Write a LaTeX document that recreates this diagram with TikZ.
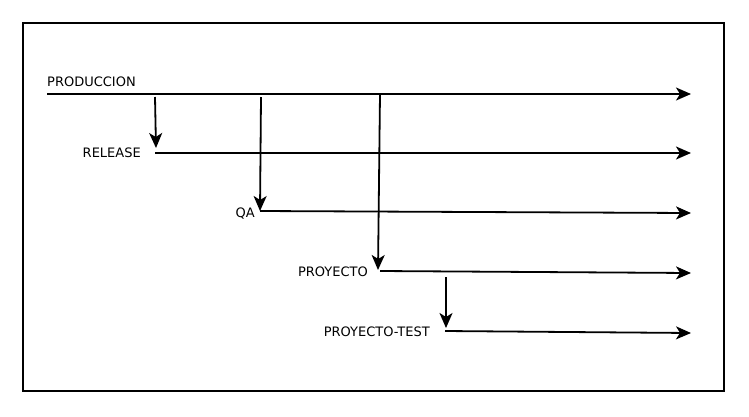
\documentclass[tikz,border=0pt]{standalone}
\usepackage{fontspec}
\setmainfont{DejaVu Sans}
\usetikzlibrary{arrows.meta}
\tikzset{
    every node/.style={inner sep=0pt, font=\fontsize{13}{15}\selectfont},
    flow/.style={line width=1.8pt, -{Stealth[length=15pt, width=13pt, inset=4pt]}}
}

\begin{document}
\begin{tikzpicture}[x=1pt, y=-1pt]
        \useasboundingbox (0,0) rectangle (749,416);
        \draw [line width=1.8pt] (23,23) rectangle (724,391);
        \node (prod) [anchor=west] at (47,82) {PRODUCCION};
        \node (release) [anchor=east] at (141,153) {RELEASE};
        \node (qa) [anchor=east] at (255,214) {QA};
        \node (proy) [anchor=east] at (368,272) {PROYECTO};
        \node (test) [anchor=east] at (430,332) {PROYECTO-TEST};
        \coordinate (p0) at (47,94);
        \coordinate (p1) at (691,94);
        \coordinate (r0) at (155,153);
        \coordinate (r1) at (691,153);
        \coordinate (q0) at (260,211);
        \coordinate (q1) at (691,213);
        \coordinate (y0) at (380,271);
        \coordinate (y1) at (691,273);
        \coordinate (t0) at (445,331);
        \coordinate (t1) at (691,333);
        \coordinate (a0) at (155,97);
        \coordinate (b0) at (261,97);
        \coordinate (c0) at (380,94);
        \coordinate (d0) at (446,277);
        \draw (p0) edge [flow] (p1);
        \draw (r0) edge [flow] (r1);
        \draw (q0) edge [flow] (q1);
        \draw (y0) edge [flow] (y1);
        \draw (t0) edge [flow] (t1);
        \draw (a0) edge [flow] (156,148);
        \draw (b0) edge [flow] (q0);
        \draw (c0) edge [flow] (378,270);
        \draw (d0) edge [flow] (446,328);
\end{tikzpicture}
\end{document}
